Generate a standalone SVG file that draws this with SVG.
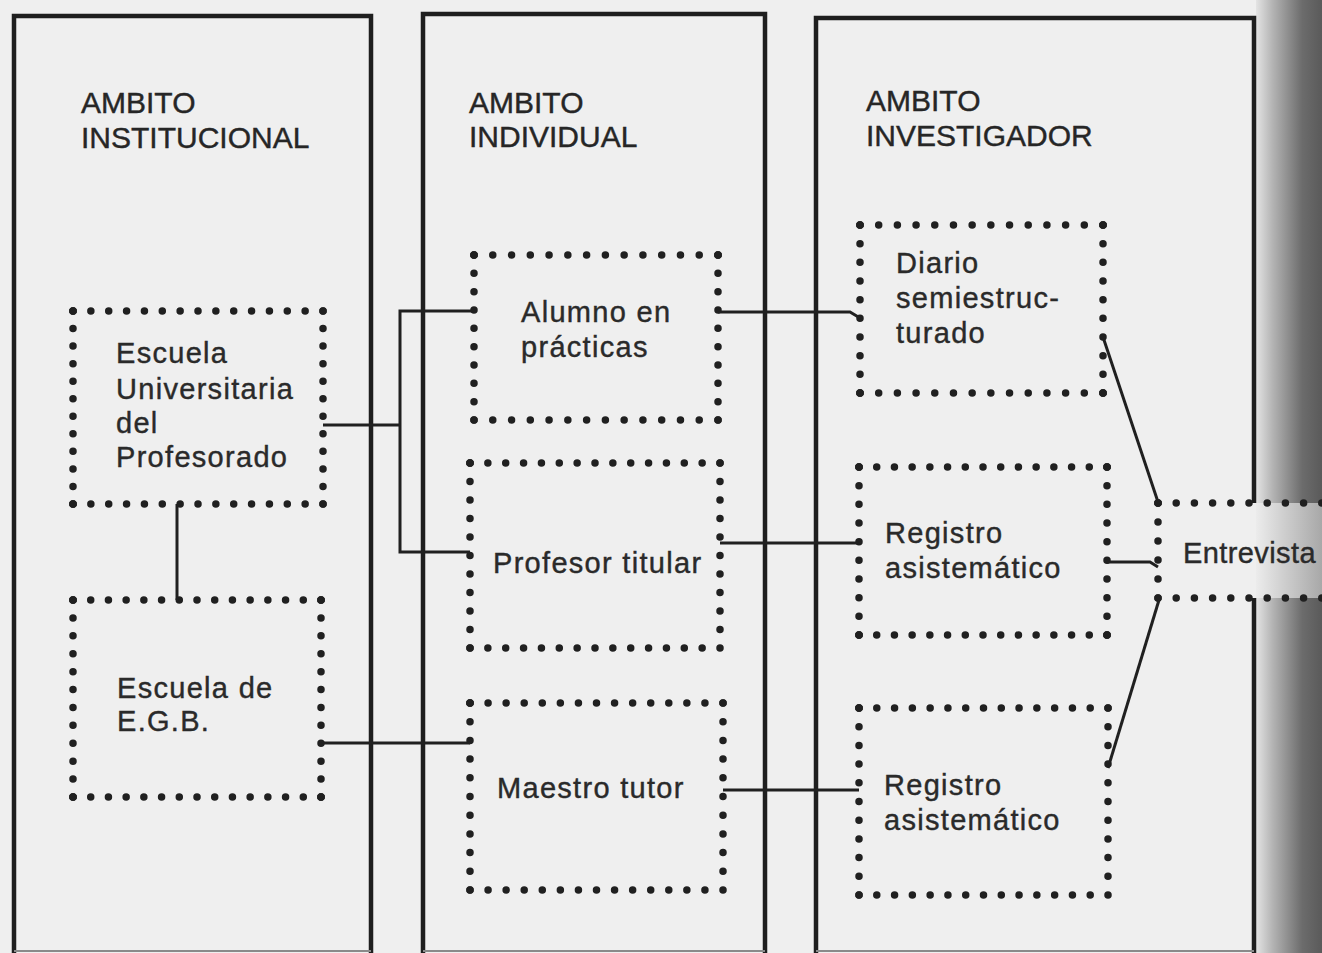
<svg xmlns="http://www.w3.org/2000/svg" width="1322" height="953" viewBox="0 0 1322 953">
<defs>
<linearGradient id="shadow" x1="0" y1="0" x2="1" y2="0">
<stop offset="0" stop-color="#e4e4e4"/>
<stop offset="0.25" stop-color="#b4b4b4"/>
<stop offset="0.7" stop-color="#6c6c6c"/>
<stop offset="1" stop-color="#5a5a5a"/>
</linearGradient>
<linearGradient id="shadowLight" x1="0" y1="0" x2="1" y2="0">
<stop offset="0" stop-color="#ececec"/>
<stop offset="0.4" stop-color="#d0d0d0"/>
<stop offset="1" stop-color="#a8a8a8"/>
</linearGradient>
</defs>
<style>
.frame{fill:none;stroke:#1e1e1e;stroke-width:4.5;stroke-linejoin:miter}
.bottom{fill:none;stroke:#8a8a8a;stroke-width:2}
.dot{stroke:#202020;stroke-width:7.5;stroke-linecap:round;stroke-dasharray:0 1;fill:none}
.cd{fill:#202020}
.conn{fill:none;stroke:#202020;stroke-width:3}
.hdr{font-family:"Liberation Sans",Arial,sans-serif;font-size:30px;fill:#262626;stroke:#262626;stroke-width:0.4}
.lbl{font-family:"Liberation Sans",Arial,sans-serif;font-size:29px;letter-spacing:1.3px;fill:#2a2a2a;stroke:#2a2a2a;stroke-width:0.4}
</style>
<rect x="0" y="0" width="1322" height="953" fill="#efefef"/>
<rect x="1256" y="0" width="66" height="503" fill="url(#shadow)"/>
<rect x="1256" y="503" width="66" height="95" fill="url(#shadowLight)"/>
<rect x="1256" y="598" width="66" height="355" fill="url(#shadow)"/>

<g id="ambito-institucional">
<path class="frame" d="M14,953 V16 H371 V953"/>
<line class="bottom" x1="14" y1="951" x2="371" y2="951"/>
<text class="hdr" x="81" y="113">AMBITO</text>
<text class="hdr" x="81" y="148">INSTITUCIONAL</text>
</g>
<g id="ambito-individual">
<path class="frame" d="M423,953 V14 H765 V953"/>
<line class="bottom" x1="423" y1="951" x2="765" y2="951"/>
<text class="hdr" x="469" y="113">AMBITO</text>
<text class="hdr" x="469" y="147">INDIVIDUAL</text>
</g>
<g id="ambito-investigador">
<path class="frame" d="M816,953 V18 H1254 V503 M1254,598 V953"/>
<line class="bottom" x1="816" y1="951" x2="1254" y2="951"/>
<text class="hdr" x="866" y="111">AMBITO</text>
<text class="hdr" x="866" y="146">INVESTIGADOR</text>
</g>

<g id="escuela-universitaria">
<line class="dot" x1="73" y1="311" x2="323" y2="311" pathLength="14"/>
<line class="dot" x1="73" y1="504" x2="323" y2="504" pathLength="14"/>
<line class="dot" x1="73" y1="311" x2="73" y2="504" pathLength="11"/>
<line class="dot" x1="323" y1="311" x2="323" y2="504" pathLength="11"/>
<circle class="cd" cx="73" cy="311" r="3.75"/><circle class="cd" cx="323" cy="311" r="3.75"/><circle class="cd" cx="73" cy="504" r="3.75"/><circle class="cd" cx="323" cy="504" r="3.75"/>
<text class="lbl" x="116" y="363">Escuela</text>
<text class="lbl" x="116" y="399">Universitaria</text>
<text class="lbl" x="116" y="433">del</text>
<text class="lbl" x="116" y="467">Profesorado</text>
</g>
<g id="escuela-egb">
<line class="dot" x1="73" y1="600" x2="321" y2="600" pathLength="14"/>
<line class="dot" x1="73" y1="797" x2="321" y2="797" pathLength="14"/>
<line class="dot" x1="73" y1="600" x2="73" y2="797" pathLength="11"/>
<line class="dot" x1="321" y1="600" x2="321" y2="797" pathLength="11"/>
<circle class="cd" cx="73" cy="600" r="3.75"/><circle class="cd" cx="321" cy="600" r="3.75"/><circle class="cd" cx="73" cy="797" r="3.75"/><circle class="cd" cx="321" cy="797" r="3.75"/>
<text class="lbl" x="117" y="698">Escuela de</text>
<text class="lbl" x="117" y="731">E.G.B.</text>
</g>
<g id="alumno-practicas">
<line class="dot" x1="474" y1="255" x2="718" y2="255" pathLength="13"/>
<line class="dot" x1="474" y1="420" x2="718" y2="420" pathLength="13"/>
<line class="dot" x1="474" y1="255" x2="474" y2="420" pathLength="9"/>
<line class="dot" x1="718" y1="255" x2="718" y2="420" pathLength="9"/>
<circle class="cd" cx="474" cy="255" r="3.75"/><circle class="cd" cx="718" cy="255" r="3.75"/><circle class="cd" cx="474" cy="420" r="3.75"/><circle class="cd" cx="718" cy="420" r="3.75"/>
<text class="lbl" x="521" y="322">Alumno en</text>
<text class="lbl" x="521" y="357">prácticas</text>
</g>
<g id="profesor-titular">
<line class="dot" x1="470" y1="463" x2="720" y2="463" pathLength="14"/>
<line class="dot" x1="470" y1="648" x2="720" y2="648" pathLength="14"/>
<line class="dot" x1="470" y1="463" x2="470" y2="648" pathLength="10"/>
<line class="dot" x1="720" y1="463" x2="720" y2="648" pathLength="10"/>
<circle class="cd" cx="470" cy="463" r="3.75"/><circle class="cd" cx="720" cy="463" r="3.75"/><circle class="cd" cx="470" cy="648" r="3.75"/><circle class="cd" cx="720" cy="648" r="3.75"/>
<text class="lbl" x="493" y="573">Profesor titular</text>
</g>
<g id="maestro-tutor">
<line class="dot" x1="470" y1="703" x2="723" y2="703" pathLength="14"/>
<line class="dot" x1="470" y1="890" x2="723" y2="890" pathLength="14"/>
<line class="dot" x1="470" y1="703" x2="470" y2="890" pathLength="10"/>
<line class="dot" x1="723" y1="703" x2="723" y2="890" pathLength="10"/>
<circle class="cd" cx="470" cy="703" r="3.75"/><circle class="cd" cx="723" cy="703" r="3.75"/><circle class="cd" cx="470" cy="890" r="3.75"/><circle class="cd" cx="723" cy="890" r="3.75"/>
<text class="lbl" x="497" y="798">Maestro tutor</text>
</g>
<g id="diario">
<line class="dot" x1="860" y1="225" x2="1103" y2="225" pathLength="13"/>
<line class="dot" x1="860" y1="393" x2="1103" y2="393" pathLength="13"/>
<line class="dot" x1="860" y1="225" x2="860" y2="393" pathLength="9"/>
<line class="dot" x1="1103" y1="225" x2="1103" y2="393" pathLength="9"/>
<circle class="cd" cx="860" cy="225" r="3.75"/><circle class="cd" cx="1103" cy="225" r="3.75"/><circle class="cd" cx="860" cy="393" r="3.75"/><circle class="cd" cx="1103" cy="393" r="3.75"/>
<text class="lbl" x="896" y="273">Diario</text>
<text class="lbl" x="896" y="308">semiestruc-</text>
<text class="lbl" x="896" y="343">turado</text>
</g>
<g id="registro-1">
<line class="dot" x1="859" y1="467" x2="1107" y2="467" pathLength="14"/>
<line class="dot" x1="859" y1="635" x2="1107" y2="635" pathLength="14"/>
<line class="dot" x1="859" y1="467" x2="859" y2="635" pathLength="9"/>
<line class="dot" x1="1107" y1="467" x2="1107" y2="635" pathLength="9"/>
<circle class="cd" cx="859" cy="467" r="3.75"/><circle class="cd" cx="1107" cy="467" r="3.75"/><circle class="cd" cx="859" cy="635" r="3.75"/><circle class="cd" cx="1107" cy="635" r="3.75"/>
<text class="lbl" x="885" y="543">Registro</text>
<text class="lbl" x="885" y="578">asistemático</text>
</g>
<g id="registro-2">
<line class="dot" x1="859" y1="708" x2="1108" y2="708" pathLength="14"/>
<line class="dot" x1="859" y1="895" x2="1108" y2="895" pathLength="14"/>
<line class="dot" x1="859" y1="708" x2="859" y2="895" pathLength="10"/>
<line class="dot" x1="1108" y1="708" x2="1108" y2="895" pathLength="10"/>
<circle class="cd" cx="859" cy="708" r="3.75"/><circle class="cd" cx="1108" cy="708" r="3.75"/><circle class="cd" cx="859" cy="895" r="3.75"/><circle class="cd" cx="1108" cy="895" r="3.75"/>
<text class="lbl" x="884" y="795">Registro</text>
<text class="lbl" x="884" y="830">asistemático</text>
</g>
<g id="entrevista">
<line class="dot" x1="1158" y1="503" x2="1340" y2="503" pathLength="10"/>
<line class="dot" x1="1158" y1="598" x2="1340" y2="598" pathLength="10"/>
<line class="dot" x1="1158" y1="503" x2="1158" y2="598" pathLength="5"/>
<circle class="cd" cx="1158" cy="503" r="3.75"/><circle class="cd" cx="1158" cy="598" r="3.75"/>
<text class="lbl" x="1183" y="563" style="letter-spacing:0.4px">Entrevista</text>
</g>

<g id="connectors">
<path class="conn" d="M323,425 H400"/>
<path class="conn" d="M474,311 H400 V552 H470"/>
<path class="conn" d="M177,504 V600"/>
<path class="conn" d="M321,743 H470"/>
<path class="conn" d="M718,312 H850 L860,318"/>
<path class="conn" d="M720,543 H859"/>
<path class="conn" d="M723,790 H859"/>
<path class="conn" d="M1103,337 L1158,502"/>
<path class="conn" d="M1107,562 H1150 L1158,567"/>
<path class="conn" d="M1108,768 L1159,600"/>
</g>
</svg>
